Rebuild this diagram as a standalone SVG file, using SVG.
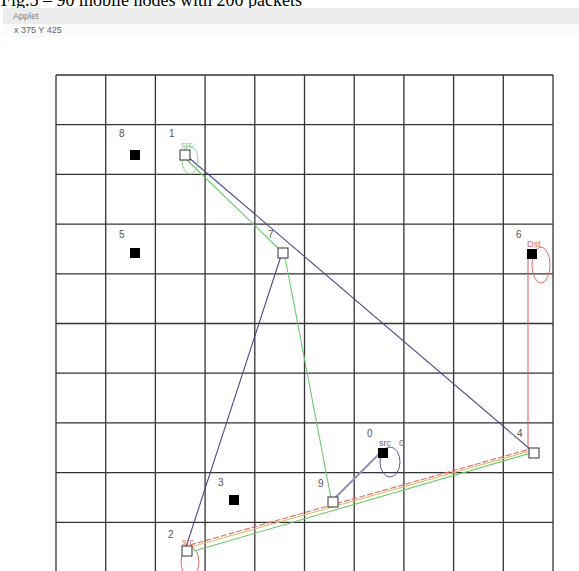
<svg xmlns="http://www.w3.org/2000/svg" width="579" height="571" viewBox="0 0 579 571">
<style>
.grid line{stroke:#333;stroke-width:1.3}
.lbl{font-family:"Liberation Sans",Arial,sans-serif;font-size:10px;fill:#555}
.filled{fill:#000}
.open{fill:#fff;stroke:#333;stroke-width:1}
.blue{stroke:#4a4a86;stroke-width:1.1;fill:none}
.green{stroke:#6cc86c;stroke-width:1.1;fill:none}
.red{stroke:#e06a6a;stroke-width:1.1;fill:none}
.tag{font-family:"Liberation Sans",Arial,sans-serif;font-size:9px}
</style>
<rect width="579" height="571" fill="#fff"/>
<text x="1" y="6" font-family="Liberation Serif,Times New Roman,serif" font-size="18" fill="#000">Fig.5 – 90 mobile nodes with 200 packets</text>
<rect x="3" y="8" width="576" height="16" fill="#ececec"/>
<rect x="3" y="24" width="576" height="13" fill="#fafafa"/>
<text x="13" y="19" font-family="Liberation Sans,Arial,sans-serif" font-size="9" fill="#808080">Applet</text>
<text x="14" y="33" font-family="Liberation Sans,Arial,sans-serif" font-size="9" fill="#666">x 375 Y 425</text>
<g class="grid" id="grid">
<line x1="56" y1="75" x2="56" y2="571"/>
<line x1="105.7" y1="75" x2="105.7" y2="571"/>
<line x1="155.4" y1="75" x2="155.4" y2="571"/>
<line x1="205.1" y1="75" x2="205.1" y2="571"/>
<line x1="254.8" y1="75" x2="254.8" y2="571"/>
<line x1="304.5" y1="75" x2="304.5" y2="571"/>
<line x1="354.2" y1="75" x2="354.2" y2="571"/>
<line x1="403.9" y1="75" x2="403.9" y2="571"/>
<line x1="453.6" y1="75" x2="453.6" y2="571"/>
<line x1="503.3" y1="75" x2="503.3" y2="571"/>
<line x1="553" y1="75" x2="553" y2="571"/>
<line x1="56" y1="75" x2="553" y2="75"/>
<line x1="56" y1="124.7" x2="553" y2="124.7"/>
<line x1="56" y1="174.4" x2="553" y2="174.4"/>
<line x1="56" y1="224.1" x2="553" y2="224.1"/>
<line x1="56" y1="273.8" x2="553" y2="273.8"/>
<line x1="56" y1="323.5" x2="553" y2="323.5"/>
<line x1="56" y1="373.2" x2="553" y2="373.2"/>
<line x1="56" y1="422.9" x2="553" y2="422.9"/>
<line x1="56" y1="472.6" x2="553" y2="472.6"/>
<line x1="56" y1="522.3" x2="553" y2="522.3"/>
</g>
<g id="connectors">
<line class="blue" x1="188" y1="157" x2="531" y2="450"/>
<line class="green" x1="186" y1="159" x2="280" y2="250"/>
<line class="blue" x1="281" y1="256" x2="186" y2="547"/>
<line class="green" x1="285" y1="257" x2="331" y2="498"/>
<line x1="335" y1="498" x2="381" y2="452" stroke="#8c8cc8" stroke-width="2"/>
<line class="red" x1="528" y1="258" x2="528" y2="449"/>
<line x1="191" y1="547" x2="530" y2="451" stroke="#d8c070" stroke-width="1.1"/>
<line class="red" x1="190" y1="545" x2="530" y2="449" stroke-dasharray="6 2"/>
<line class="green" x1="194" y1="551" x2="531" y2="453"/>
</g>
<g id="node8"><rect class="filled" x="130" y="150" width="10" height="10"/><text class="lbl" x="119" y="137">8</text></g>
<g id="node1"><ellipse cx="190" cy="160" rx="8" ry="14" fill="none" stroke="#8ad88a"/><rect class="open" x="180" y="150" width="10" height="10"/><text class="lbl" x="169" y="137">1</text><text class="tag" x="181" y="148" fill="#7acc7a">src</text></g>
<g id="node5"><rect class="filled" x="130" y="248" width="10" height="10"/><text class="lbl" x="119" y="238">5</text></g>
<g id="node7"><rect class="open" x="278" y="248" width="10" height="10"/><text class="lbl" x="268" y="238">7</text></g>
<g id="node6"><ellipse cx="541" cy="265" rx="9" ry="18" fill="none" stroke="#e06a6a"/><rect class="filled" x="527" y="249" width="10" height="10"/><text class="lbl" x="516" y="238">6</text><text class="tag" x="527" y="247" fill="#e06a6a">Dst</text></g>
<g id="node4"><rect class="open" x="529" y="448" width="10" height="10"/><text class="lbl" x="517" y="437">4</text></g>
<g id="node0"><ellipse cx="390" cy="462" rx="10" ry="15" fill="none" stroke="#5a5aa8"/><rect class="filled" x="378" y="448" width="10" height="10"/><text class="lbl" x="367" y="437">0</text><text class="tag" x="379" y="446" fill="#5a5aa8">src</text><text class="tag" x="399" y="446" fill="#777">0</text></g>
<g id="node9"><rect class="open" x="328" y="497" width="10" height="10"/><text class="lbl" x="318" y="487" font-size="12">9</text></g>
<g id="node3"><rect class="filled" x="229" y="495" width="10" height="10"/><text class="lbl" x="218" y="486" font-size="11">3</text></g>
<g id="node2"><ellipse cx="190" cy="562" rx="9" ry="15" fill="none" stroke="#e06a6a"/><rect class="open" x="182" y="546" width="10" height="10"/><text class="lbl" x="168" y="538" font-size="12">2</text><text class="tag" x="182" y="545" fill="#e06a6a">src</text></g>
</svg>
